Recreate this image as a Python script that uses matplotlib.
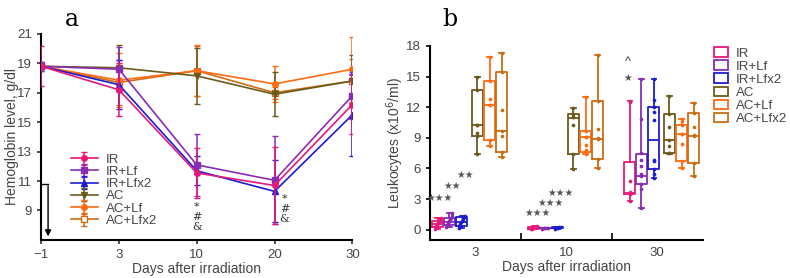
import matplotlib
matplotlib.use("Agg")
import matplotlib.pyplot as plt
from matplotlib.patches import Patch
import numpy as np

plt.rcParams['font.family'] = ['Liberation Sans', 'DejaVu Sans']

# ---------------- data ----------------
series = ["IR", "IR+Lf", "IR+Lfx2", "AC", "AC+Lf", "AC+Lfx2"]
colors = ["#e6197a", "#8a2bb5", "#1c1cd2", "#6b5a1c", "#ff6a12", "#cc6c16"]
markers = ["o", "s", "^", "v", "o", "s"]

# panel a: hemoglobin (g/dl)
days_a = ["\u22121", "3", "10", "20", "30"]
hb_IR      = [18.8, 17.2, 11.55, 10.7, 16.2]
hb_IRLf    = [18.8, 18.6, 12.1, 11.05, 16.8]
hb_IRLfx2  = [18.8, 17.55, 11.7, 10.3, 15.5]
hb_AC      = [18.8, 18.7, 18.15, 16.9, 17.8]
hb_ACLf    = [18.8, 17.85, 18.5, 17.6, 18.6]
hb_ACLfx2  = [18.8, 17.7, 18.5, 17.0, 17.8]
sd_IR      = [1.35, 1.8, 1.7, 2.6, 2.0]
sd_IRLf    = [0.3, 1.5, 2.1, 3.0, 1.6]
sd_IRLfx2  = [0.3, 1.65, 1.0, 2.1, 2.8]
sd_AC      = [0.2, 1.55, 1.9, 1.5, 1.8]
sd_ACLf    = [0.2, 1.85, 1.75, 1.25, 2.2]
sd_ACLfx2  = [0.2, 1.5, 1.7, 0.4, 1.5]
hb_means = [hb_IR, hb_IRLf, hb_IRLfx2, hb_AC, hb_ACLf, hb_ACLfx2]
hb_sds = [sd_IR, sd_IRLf, sd_IRLfx2, sd_AC, sd_ACLf, sd_ACLfx2]

# panel b: leukocytes (x10^6/ml), box stats [whislo, q1, med, q3, whishi]
days_b = ["3", "10", "30"]
box_d3 = [[0.1, 0.3, 0.6, 0.9, 1.1], [0.3, 0.5, 0.8, 1.1, 1.6], [0.2, 0.4, 0.8, 1.2, 1.3],
          [7.4, 9.15, 10.3, 13.7, 15.0], [8.2, 8.75, 12.2, 14.6, 16.9], [7.1, 7.6, 9.7, 15.45, 17.3]]
box_d10 = [[0.05, 0.1, 0.2, 0.3, 0.35], [0.1, 0.12, 0.15, 0.18, 0.2], [0.1, 0.15, 0.2, 0.25, 0.3],
           [5.9, 7.4, 10.9, 11.35, 11.95], [7.45, 7.6, 9.1, 9.7, 12.95], [6.05, 6.95, 8.85, 12.6, 17.1]]
box_d30 = [[2.8, 3.45, 3.6, 6.65, 12.6], [2.1, 4.45, 5.25, 7.45, 14.75], [5.1, 5.9, 8.75, 12.0, 14.75],
           [7.4, 7.5, 8.75, 11.3, 13.1], [6.0, 6.7, 9.35, 10.3, 10.8], [5.3, 6.55, 9.15, 11.45, 12.45]]
boxes_b = [box_d3, box_d10, box_d30]

pts_d3 = [[0.1, 0.3, 0.4, 0.5, 0.6, 0.7, 0.8, 0.9, 1.0, 1.1],
          [0.3, 0.5, 0.7, 0.8, 0.9, 1.0, 1.1, 1.3, 1.6],
          [0.2, 0.4, 0.6, 0.8, 0.9, 1.0, 1.1, 1.2, 1.3],
          [15.0, 13.7, 10.3, 10.3, 9.5, 9.2, 7.4],
          [16.9, 14.6, 12.8, 12.2, 12.2, 8.8, 8.2],
          [17.3, 15.4, 11.7, 9.7, 9.2, 7.6, 7.1]]
pts_d10 = [[0.05, 0.1, 0.15, 0.2, 0.25, 0.3, 0.35],
           [0.1, 0.12, 0.15, 0.18, 0.2],
           [0.1, 0.15, 0.2, 0.25, 0.3],
           [11.9, 11.3, 11.0, 11.0, 10.3, 7.4, 5.9],
           [12.95, 9.7, 9.1, 9.1, 8.25, 7.8, 7.45],
           [17.1, 12.6, 9.9, 9.0, 8.85, 6.95, 6.05]]
pts_d30 = [[12.6, 12.5, 4.8, 3.7, 3.6, 3.5, 3.45, 2.8],
           [14.75, 10.8, 7.5, 6.8, 6.2, 5.5, 5.25, 4.5, 4.0, 2.1],
           [14.75, 12.7, 12.0, 11.5, 10.7, 6.8, 6.7, 5.9, 5.5, 5.1],
           [13.1, 11.3, 10.1, 8.75, 8.2, 7.5, 7.5],
           [10.8, 10.6, 10.3, 9.4, 9.35, 8.4, 6.7, 6.0],
           [12.45, 11.45, 10.1, 9.3, 9.15, 6.55, 5.3]]
pts_b = [pts_d3, pts_d10, pts_d30]

# ---------------- figure ----------------
fig = plt.figure(figsize=(7.9, 2.78), dpi=100)
ax = fig.add_axes([0.052, 0.137, 0.394, 0.741])
bx = fig.add_axes([0.544, 0.137, 0.3456, 0.698])

# ---- panel a ----
xa = np.arange(len(days_a))
for i, s in enumerate(series):
    mfc = "white" if i == 5 else colors[i]
    ax.errorbar(xa, hb_means[i], yerr=hb_sds[i], color=colors[i], marker=markers[i],
                markersize=4.5 if markers[i] != "o" else 4, mfc=mfc, mec=colors[i],
                lw=1.2, elinewidth=1.1, capsize=2.5, capthick=1.0, label=s, zorder=3 + (5 - i) * 0.1)
ax.set_xlim(0, 4)
ax.set_ylim(7, 21)
ax.set_xticks(xa)
ax.set_xticklabels(days_a)
ax.set_yticks([9, 11, 13, 15, 17, 19, 21])
for sp in ["top", "right"]:
    ax.spines[sp].set_visible(False)
for sp in ["left", "bottom"]:
    ax.spines[sp].set_linewidth(1.5)
ax.tick_params(direction="out", length=3, width=1.2, labelsize=9.5, colors="#333333", labelcolor="#444444")
ax.set_xlabel("Days after irradiation", fontsize=10, color="#444444", labelpad=1)
ax.set_ylabel("Hemoglobin level, g/dl", fontsize=10, color="#444444")
ax.yaxis.set_label_coords(-0.072, 0.5)
ax.plot([0, 0.09], [10.8, 10.8], color="black", lw=1.0, clip_on=False)
ax.annotate("", xy=(0.09, 7.05), xytext=(0.09, 10.85),
            arrowprops=dict(arrowstyle="-|>", color="black", lw=1.0, mutation_scale=9))
ax.text(2.0, 9.6, "*\n#\n&", ha="center", va="top", fontsize=8, family="DejaVu Serif",
        linespacing=1.0, color="#333333")
ax.text(3.13, 10.1, "*\n#\n&", ha="center", va="top", fontsize=8, family="DejaVu Serif",
        linespacing=1.0, color="#333333")
leg = ax.legend(loc="upper left", bbox_to_anchor=(0.08, 0.445), frameon=False, fontsize=9.5,
                handlelength=2.0, handletextpad=0.6, labelspacing=0.0, borderaxespad=0,
                labelcolor="#444444")
fig.text(72 / 790, 1 - 20 / 278, "a", fontsize=17, family="DejaVu Serif", ha="center", va="center")

# ---- panel b ----
offsets = [0, 0.126, 0.264, 0.434, 0.571, 0.703]
bw = 0.12
for g in range(3):
    start = 0.088 + g * 1.055
    for i in range(6):
        lo, q1, med, q3, hi = boxes_b[g][i]
        st = dict(whislo=lo, q1=q1, med=med, q3=q3, whishi=hi, fliers=[])
        p = start + offsets[i]
        c = colors[i]
        bx.bxp([st], positions=[p], widths=bw, showfliers=False, patch_artist=False,
               boxprops=dict(color=c, lw=1.3), medianprops=dict(color=c, lw=1.3),
               whiskerprops=dict(color=c, lw=1.3), capprops=dict(color=c, lw=1.3),
               capwidths=0.05, manage_ticks=False)
        y = np.array(pts_b[g][i])
        n = len(y)
        jitter = np.linspace(-0.035, 0.035, n) if g < 2 and i < 3 else np.zeros(n)
        bx.scatter(p + jitter, y, s=7, color=c, zorder=4, lw=0)

bx.set_xlim(0, 3)
bx.set_ylim(-1, 18)
bx.set_yticks([0, 3, 6, 9, 12, 15, 18])
bx.set_xticks([1, 2])
bx.set_xticklabels([])
bx.set_xticks([0.5, 1.5, 2.5], minor=True)
bx.set_xticklabels(days_b, minor=True)
bx.tick_params(axis="x", which="major", direction="in", length=5, width=1.2)
bx.tick_params(axis="x", which="minor", length=0, labelsize=9.5, labelcolor="#444444", pad=5)
bx.tick_params(axis="y", direction="out", length=3, width=1.2, labelsize=9.5, labelcolor="#444444")
for sp in ["top", "right"]:
    bx.spines[sp].set_visible(False)
for sp in ["left", "bottom"]:
    bx.spines[sp].set_linewidth(1.5)
bx.set_xlabel("Days after irradiation", fontsize=10, color="#444444", labelpad=1)
bx.set_ylabel("Leukocytes (x10$^6$/ml)", fontsize=10, color="#444444")
bx.yaxis.set_label_coords(-0.088, 0.5)

star_kw = dict(fontsize=7, color="#555555", ha="center", va="center", family="DejaVu Sans")
bx.text(0.105, 3.1, "\u2605\u2605\u2605", **star_kw)
bx.text(0.25, 4.3, "\u2605\u2605", **star_kw)
bx.text(0.39, 5.4, "\u2605\u2605", **star_kw)
bx.text(1.18, 1.6, "\u2605\u2605\u2605", **star_kw)
bx.text(1.33, 2.6, "\u2605\u2605\u2605", **star_kw)
bx.text(1.44, 3.55, "\u2605\u2605\u2605", **star_kw)
bx.text(2.18, 16.4, "^", fontsize=9, color="#333333", ha="center", va="center")
bx.text(2.18, 14.9, "\u2605", **star_kw)

handles = [Patch(facecolor="white", edgecolor=c, lw=1.3) for c in colors]
bx.legend(handles, series, loc="upper left", bbox_to_anchor=(1.02, 1.02), frameon=False,
          fontsize=9.5, handlelength=1.1, handleheight=0.75, handletextpad=0.6, labelspacing=0.05,
          borderaxespad=0, labelcolor="#444444")
fig.text(450 / 790, 1 - 20 / 278, "b", fontsize=17, family="DejaVu Serif", ha="center", va="center")

fig.savefig("out.png", dpi=100)
